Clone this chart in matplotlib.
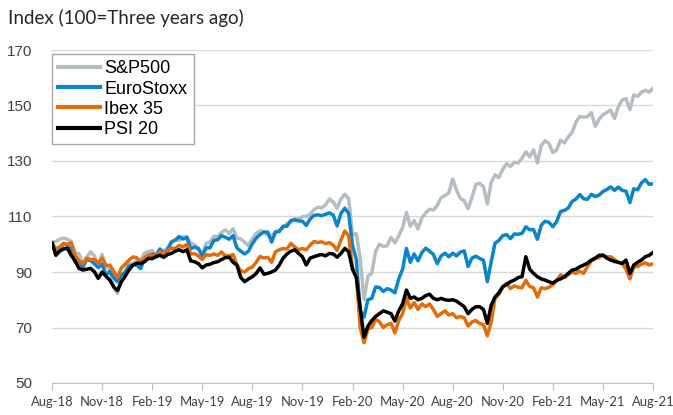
import pandas as pd
import matplotlib
matplotlib.use("Agg")
import matplotlib.pyplot as plt
import matplotlib.transforms as mtransforms

# ------------------------------------------------------------
# Data: weekly index levels (100 = three years ago)
# ------------------------------------------------------------
dates = pd.date_range("2018-08-31", periods=157, freq="7D")

tick_labels = ["Aug-18", "Nov-18", "Feb-19", "May-19", "Aug-19", "Nov-19", "Feb-20",
               "May-20", "Aug-20", "Nov-20", "Feb-21", "May-21", "Aug-21"]

sp500 = [
    100.5, 101.0, 101.8, 102.2, 101.8, 101.0, 96.8, 96.6, 92.8, 95.2, 97.3, 95.8, 92.0,
    96.3, 92.0, 90.8, 84.5, 82.3, 88.3, 90.5, 93.0, 92.8, 94.4, 94.4, 96.8, 97.4,
    97.8, 95.6, 98.4, 97.6, 98.8, 101.0, 101.4, 101.4, 102.6, 102.8, 100.5, 99.8, 98.6,
    96.1, 100.3, 100.7, 102.9, 102.7, 104.3, 105.2, 103.9, 105.6, 102.3, 101.9, 100.8, 99.4,
    102.1, 103.9, 104.9, 104.4, 103.3, 103.0, 104.5, 105.0, 106.0, 107.5, 108.2, 109.2, 109.0,
    110.0, 110.0, 110.8, 112.5, 113.3, 113.1, 114.2, 116.3, 115.2, 113.0, 116.3, 118.0, 116.5,
    103.5, 103.8, 94.8, 80.0, 88.5, 89.5, 97.5, 100.0, 99.2, 99.5, 102.5, 100.5, 103.0,
    106.0, 111.5, 106.5, 108.5, 105.5, 109.5, 111.3, 112.6, 112.3, 114.0, 116.8, 117.5, 118.5,
    123.5, 119.5, 116.5, 115.7, 112.8, 116.8, 121.5, 122.0, 120.8, 114.5, 122.3, 125.0, 124.0,
    127.0, 129.0, 128.0, 129.5, 129.3, 131.0, 133.3, 131.5, 134.0, 129.3, 135.6, 137.3, 136.3,
    133.0, 134.0, 137.5, 136.5, 138.7, 140.3, 144.0, 146.0, 145.8, 146.0, 147.5, 142.5, 145.0,
    146.7, 147.5, 148.3, 145.3, 149.5, 152.0, 152.5, 148.5, 153.8, 153.3, 154.8, 155.5, 154.8, 156.2,
]

eurostoxx = [
    100.2, 96.8, 98.0, 100.3, 99.5, 98.0, 93.6, 94.0, 91.6, 94.5, 94.1, 93.0, 91.6,
    92.8, 89.0, 90.2, 88.0, 86.5, 88.9, 89.8, 92.1, 92.5, 92.5, 91.2, 94.7, 95.6,
    96.5, 96.0, 98.2, 96.6, 98.0, 100.8, 101.5, 102.8, 101.9, 102.4, 98.4, 99.0, 98.4,
    95.9, 98.7, 98.7, 101.4, 101.6, 103.1, 102.5, 101.8, 103.1, 98.7, 97.5, 96.5, 97.5,
    100.2, 102.2, 103.5, 104.4, 104.4, 100.8, 104.4, 104.6, 106.5, 106.5, 108.5, 108.8, 108.4,
    108.3, 106.8, 109.1, 110.4, 110.6, 110.3, 110.8, 111.3, 110.5, 106.6, 111.1, 113.0, 111.1,
    99.5, 94.5, 76.0, 73.8, 80.0, 80.5, 84.6, 84.4, 83.0, 84.0, 83.5, 82.5, 87.5,
    91.0, 98.5, 93.5, 96.5, 94.0, 97.0, 98.6, 97.5, 96.3, 93.0, 95.8, 96.8, 95.5,
    96.8, 95.8, 97.2, 97.6, 92.0, 95.0, 95.7, 94.9, 94.2, 86.5, 93.7, 100.4, 101.4,
    103.1, 103.5, 102.0, 103.7, 103.6, 103.9, 106.3, 105.2, 105.3, 101.8, 106.9, 108.3, 107.9,
    106.3, 108.2, 111.8, 112.2, 113.1, 115.4, 116.3, 117.9, 116.4, 116.2, 118.0, 117.2, 117.7,
    119.0, 119.7, 120.7, 119.4, 120.6, 119.4, 119.1, 115.0, 120.0, 119.6, 122.1, 123.3, 121.6, 121.8,
]

ibex35 = [
    100.5, 98.3, 99.0, 100.3, 100.0, 100.5, 96.0, 94.0, 93.0, 95.0, 94.5, 94.5, 93.3,
    95.0, 92.3, 92.5, 90.3, 88.0, 91.5, 92.8, 94.3, 95.4, 95.2, 93.5, 95.1, 96.2,
    96.0, 95.6, 97.3, 96.5, 97.5, 98.6, 98.5, 99.6, 99.0, 100.0, 96.5, 96.6, 95.8,
    94.5, 96.2, 96.0, 96.5, 96.0, 97.2, 95.8, 95.8, 96.3, 92.5, 90.4, 90.0, 91.2,
    91.8, 93.5, 95.6, 95.0, 95.3, 93.5, 97.3, 98.0, 98.5, 98.3, 100.3, 99.0, 98.0,
    98.5, 98.0, 99.7, 101.0, 100.6, 100.9, 100.2, 100.6, 99.7, 97.8, 101.5, 104.8, 103.0,
    91.5, 88.5, 70.0, 64.5, 69.5, 70.0, 73.0, 72.0, 70.0, 71.0, 71.5, 68.0, 72.5,
    75.0, 80.5, 77.0, 79.0, 76.5, 78.5, 77.5, 78.5, 76.5, 74.0, 75.0, 76.0, 74.5,
    75.0, 73.5, 74.0, 73.5, 70.5, 72.0, 72.5, 71.5, 71.0, 67.0, 72.0, 80.5, 82.0,
    84.5, 86.0, 84.0, 85.0, 84.5, 84.3, 87.0, 84.8, 84.3, 81.0, 84.3, 84.0, 84.5,
    85.5, 86.8, 89.0, 88.0, 89.0, 90.0, 89.5, 90.3, 89.5, 92.0, 94.0, 94.8, 95.2,
    96.0, 95.5, 95.5, 94.5, 93.5, 93.0, 91.0, 87.5, 91.8, 92.0, 92.8, 93.3, 92.5, 93.0,
]

psi20 = [
    100.5, 96.0, 97.5, 98.3, 98.5, 96.0, 94.0, 91.3, 90.7, 91.0, 91.3, 90.1, 87.7,
    90.0, 88.5, 87.1, 84.7, 83.3, 86.5, 88.5, 90.8, 92.5, 93.2, 93.0, 93.7, 94.9,
    94.8, 95.5, 96.0, 95.3, 96.3, 96.7, 97.5, 98.0, 97.3, 98.0, 94.0, 93.7, 93.0,
    91.5, 92.5, 92.8, 93.4, 93.7, 94.5, 95.2, 95.3, 93.5, 92.5, 88.0, 86.5, 87.5,
    88.3, 89.5, 91.5, 89.2, 89.5, 90.0, 90.7, 92.5, 95.0, 96.5, 97.5, 98.0, 96.7,
    95.5, 92.5, 95.0, 95.5, 96.0, 96.3, 95.8, 96.7, 96.5, 95.3, 96.7, 98.5, 97.3,
    91.0, 88.0, 77.0, 66.5, 70.5, 72.5, 74.0, 75.0, 76.0, 75.5, 75.0, 72.3, 76.0,
    78.5, 83.5, 80.5, 81.0, 80.0, 80.5, 81.5, 82.0, 80.5, 80.0, 80.5, 80.0, 79.8,
    80.0, 79.5, 78.5, 77.5, 75.0, 76.5, 77.5, 77.5, 76.5, 71.5, 78.0, 81.0, 82.5,
    84.7, 85.5, 86.5, 87.1, 88.0, 88.3, 95.5, 91.0, 89.5, 88.3, 87.5, 87.1, 86.5,
    86.0, 87.0, 87.5, 88.3, 89.5, 90.7, 91.0, 91.9, 92.5, 93.2, 94.3, 95.0, 96.0,
    96.1, 95.0, 94.3, 93.8, 93.5, 93.1, 94.3, 89.5, 92.5, 93.5, 94.3, 95.5, 96.0, 97.0,
]

series = [
    ("S&P500", sp500, "#B4BEC2"),
    ("EuroStoxx", eurostoxx, "#0A85CC"),
    ("Ibex 35", ibex35, "#E46C0A"),
    ("PSI 20", psi20, "#000000"),
]

# ------------------------------------------------------------
# Plot
# ------------------------------------------------------------
fig = plt.figure(figsize=(6.73, 4.15), dpi=100)
ax = fig.add_axes([52 / 673, 1 - 383 / 415, 601 / 673, 333 / 415])

for name, values, color in series:
    ax.plot(dates, values, color=color, lw=2.5, label=name, solid_joinstyle="round")

ax.set_ylim(50, 170)
ax.set_yticks([50, 70, 90, 110, 130, 150, 170])
ax.set_xlim(dates[0], dates[-1])
ax.set_xticks(dates[::13])
ax.set_xticklabels(tick_labels, fontfamily="Lato", fontsize=9.4, color="#404040")

# keep the last label inside the canvas
last = ax.get_xticklabels()[-1]
last.set_transform(last.get_transform() + mtransforms.ScaledTranslation(-6 / 100, 0, fig.dpi_scale_trans))

for lbl in ax.get_yticklabels():
    lbl.set_fontfamily("Liberation Sans")
    lbl.set_fontsize(11)
    lbl.set_color("#404040")

ax.grid(axis="y", color="#D9D9D9", lw=1)
ax.set_axisbelow(True)
for side in ["left", "right", "top"]:
    ax.spines[side].set_visible(False)
ax.spines["bottom"].set_color("#BFBFBF")
ax.tick_params(axis="y", length=0, pad=14)
ax.tick_params(axis="x", direction="out", length=5, color="#BFBFBF", pad=4)

leg = ax.legend(loc="upper left", bbox_to_anchor=(0.0, 0.988), borderaxespad=0,
                prop={"family": "Liberation Sans", "size": 13},
                handlelength=2.3, handletextpad=0.25, labelspacing=0.18,
                borderpad=0.35, fancybox=False, framealpha=1)
leg.get_frame().set_edgecolor("#A6A6A6")
leg.get_frame().set_linewidth(1)
for line in leg.get_lines():
    line.set_linewidth(3)

fig.text(8 / 673, 1 - 18 / 415, "Index (100=Three years ago)", fontfamily="Lato",
         fontsize=13.5, color="#262626", va="center", ha="left")

fig.savefig("out.png", dpi=100)
